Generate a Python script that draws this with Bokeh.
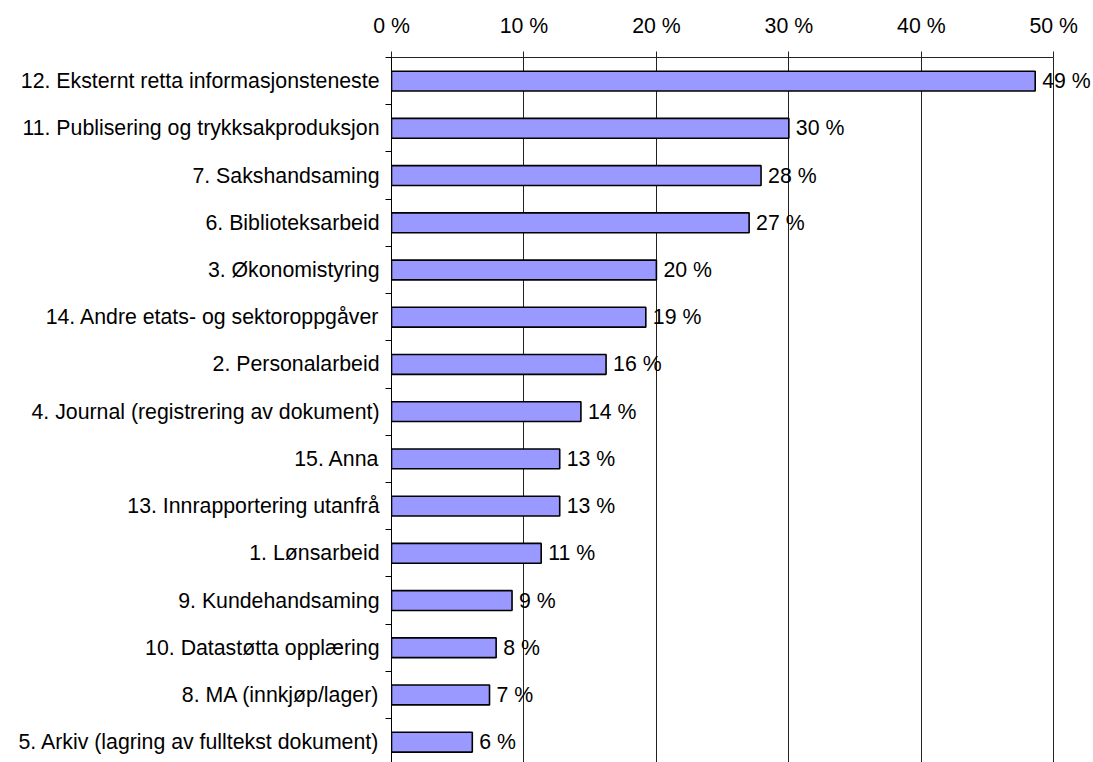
from bokeh.plotting import figure
from bokeh.models import Range1d, FixedTicker, ColumnDataSource, LabelSet
from bokeh.core.properties import value
from bokeh.embed import file_html
from bokeh.resources import INLINE

categories = [
    "12. Eksternt retta informasjonsteneste",
    "11. Publisering og trykksakproduksjon",
    "7. Sakshandsaming",
    "6. Biblioteksarbeid",
    "3. Økonomistyring",
    "14. Andre etats- og sektoroppgåver",
    "2. Personalarbeid",
    "4. Journal (registrering av dokument)",
    "15. Anna",
    "13. Innrapportering utanfrå",
    "1. Lønsarbeid",
    "9. Kundehandsaming",
    "10. Datastøtta opplæring",
    "8. MA (innkjøp/lager)",
    "5. Arkiv (lagring av fulltekst dokument)",
]
values = [48.6, 30.0, 27.9, 27.0, 20.0, 19.2, 16.2, 14.3, 12.7, 12.7, 11.3, 9.1, 7.9, 7.4, 6.1]
value_labels = [f"{round(v)} %" for v in values]
x_ticks = [0, 10, 20, 30, 40, 50]
x_tick_labels = ["0 %", "10 %", "20 %", "30 %", "40 %", "50 %"]

FONT = "Liberation Sans"
FS = "21.3px"

ys = list(range(len(categories)))
src = ColumnDataSource(dict(y=ys, v=values, lab=value_labels))

p = figure(width=1093, height=762,
           x_range=Range1d(0, 53.0), y_range=Range1d(14.43, -0.5),
           x_axis_location="above", output_backend="svg", toolbar_location=None,
           min_border_left=391, min_border_right=0, min_border_top=57, min_border_bottom=0)
p.outline_line_color = None
p.background_fill_color = "white"
p.border_fill_color = "white"

p.hbar(y="y", left=0, right="v", height=0.42, source=src,
       fill_color="#9999FF", line_color="black", line_width=1.6)

labels = LabelSet(x="v", y="y", text="lab", source=src, x_offset=7,
                  text_baseline="middle", text_align="left",
                  text_font=value(FONT), text_font_size=FS, text_color="black")
p.add_layout(labels)

# top axis
xa = p.xaxis[0]
xa.ticker = FixedTicker(ticks=x_ticks)
xa.bounds = (0, 50)
xa.major_label_overrides = {t: l for t, l in zip(x_ticks, x_tick_labels)}
xa.major_tick_out = 6
xa.major_tick_in = 0
xa.minor_tick_line_color = None
xa.axis_line_color = "#222222"
xa.major_tick_line_color = "#222222"
xa.major_label_text_font = FONT
xa.major_label_text_font_size = FS
xa.major_label_text_color = "black"
xa.major_label_standoff = 14

# left axis
ya = p.yaxis[0]
ya.ticker = FixedTicker(ticks=ys, minor_ticks=[i - 0.5 for i in range(len(categories) + 1)])
ya.major_label_overrides = {i: c for i, c in zip(ys, categories)}
ya.major_tick_line_color = None
ya.major_tick_out = 0
ya.major_tick_in = 0
ya.minor_tick_out = 6
ya.minor_tick_in = 0
ya.minor_tick_line_color = "black"
ya.axis_line_color = "black"
ya.major_label_text_font = FONT
ya.major_label_text_font_size = FS
ya.major_label_text_color = "black"
ya.major_label_standoff = 6

p.ygrid.visible = False
p.xgrid.ticker = FixedTicker(ticks=x_ticks)
p.xgrid.grid_line_color = "#222222"
p.xgrid.grid_line_width = 1

open("out.html", "w").write(file_html(p, INLINE))
